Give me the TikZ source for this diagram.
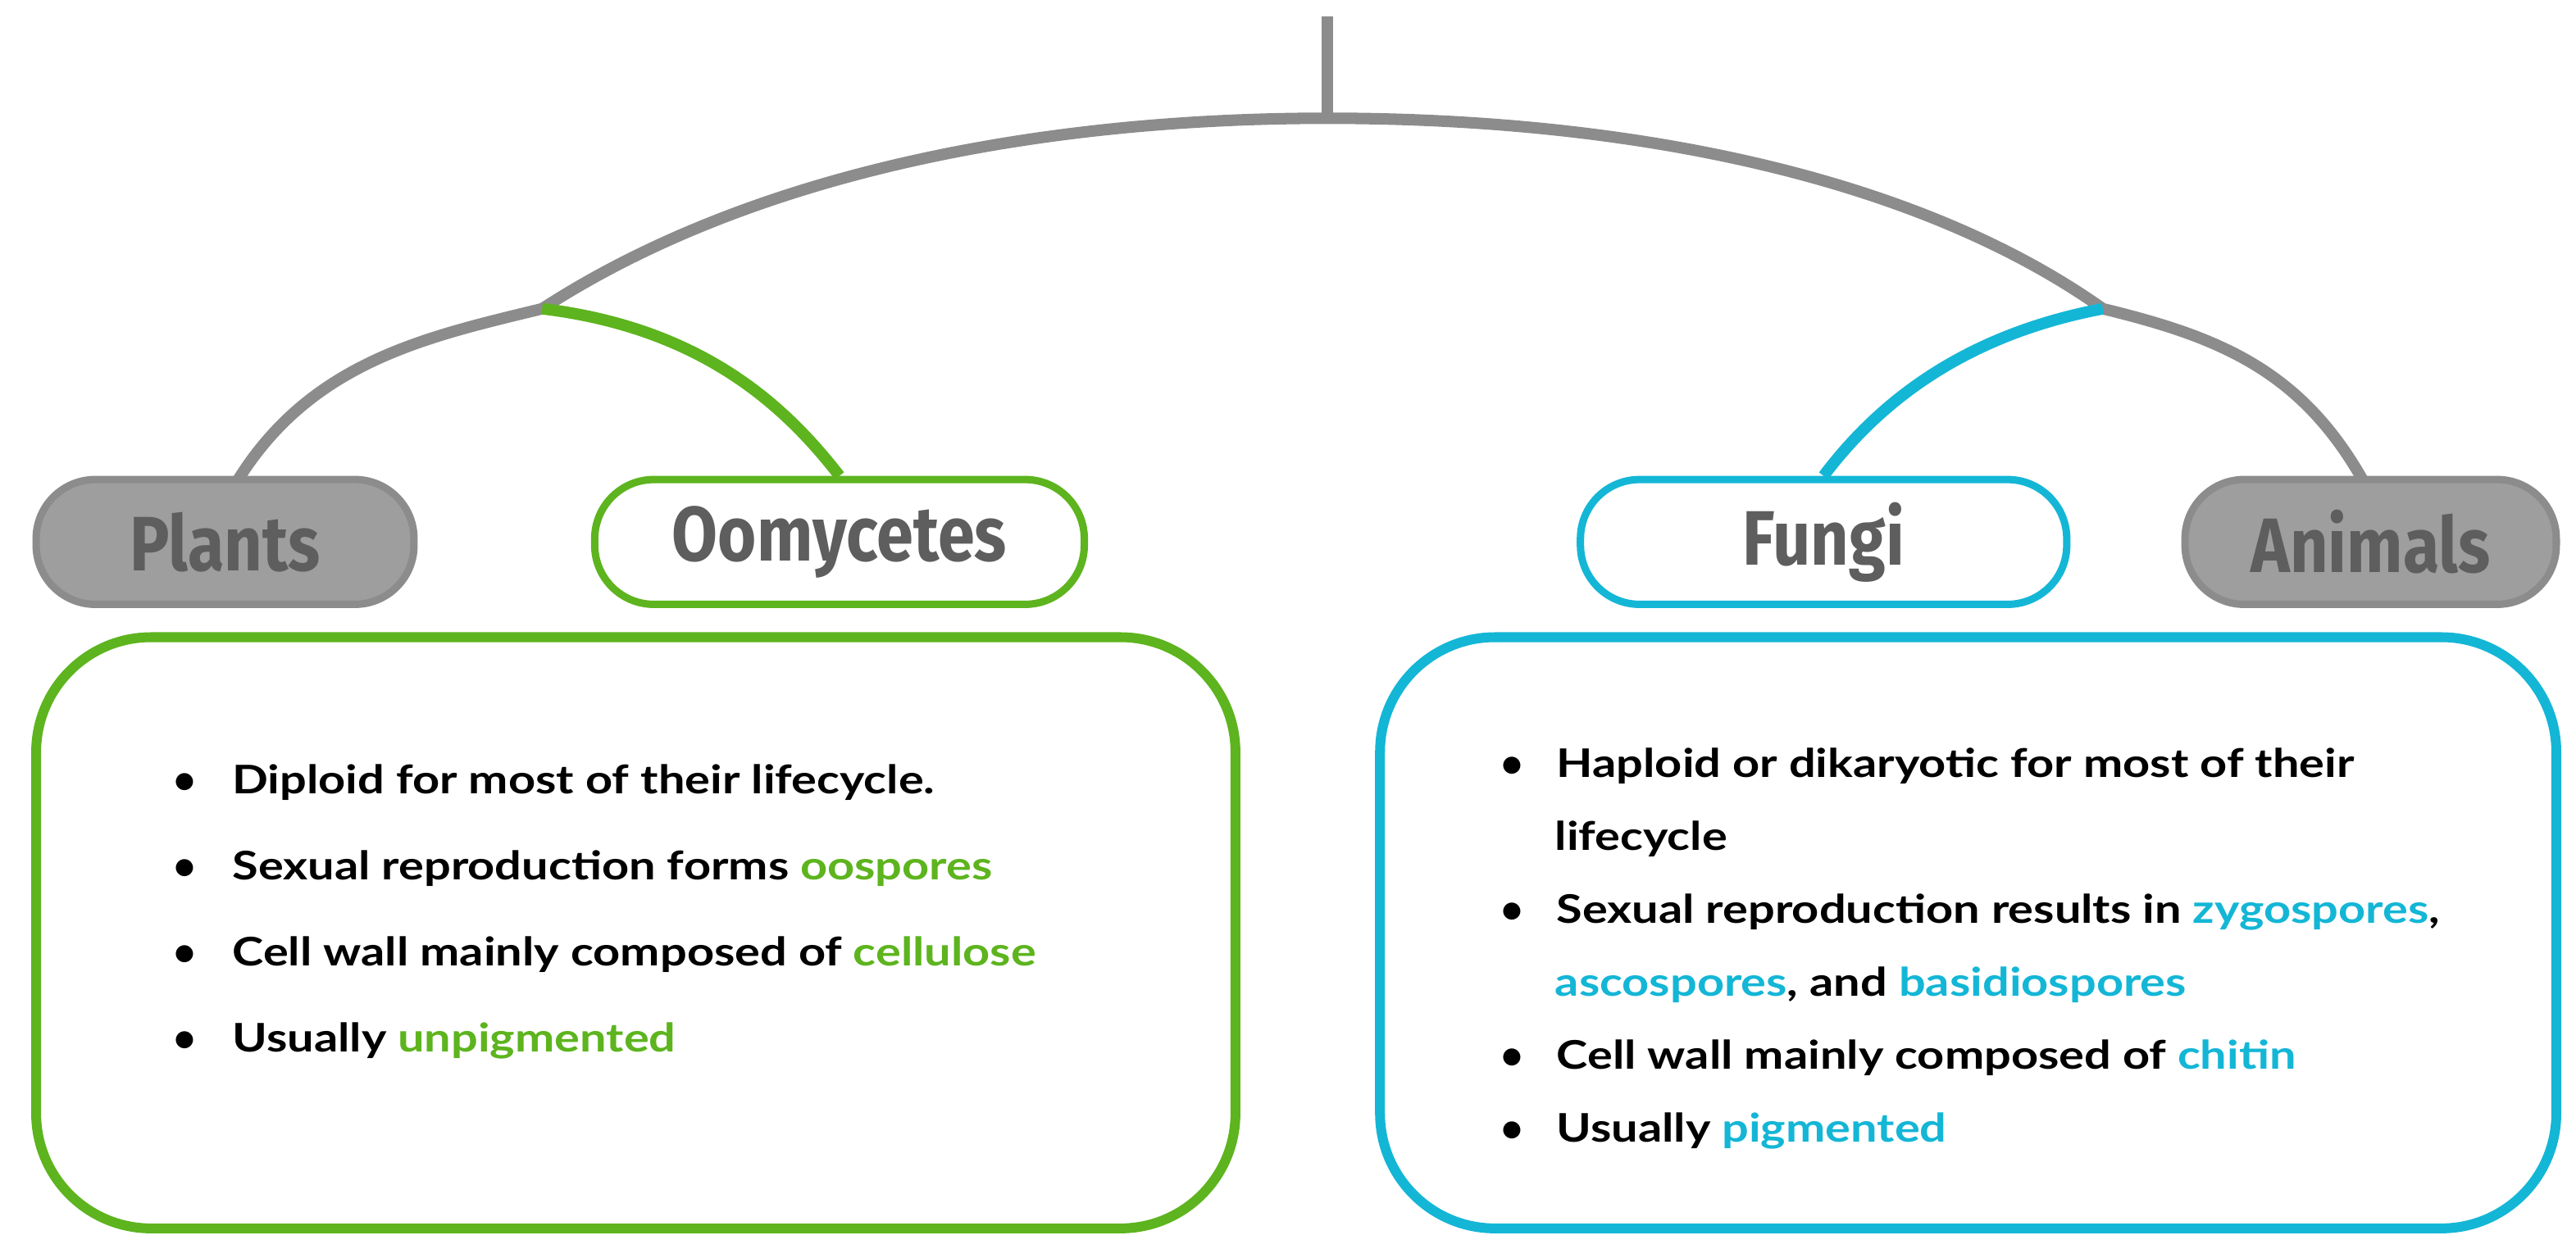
\documentclass[tikz,border=0pt]{standalone}
\usepackage{fontspec}
\setmainfont{Lato}
\newfontfamily\headfont{Fira Sans}
\definecolor{gr}{HTML}{8C8C8C}
\definecolor{grfill}{HTML}{9E9E9E}
\definecolor{grtext}{HTML}{5E5E5E}
\definecolor{grn}{HTML}{5DB41E}
\definecolor{blu}{HTML}{14B6D6}
\newcommand{\hd}[1]{\scalebox{0.86}[1]{\color{grtext}\headfont\bfseries\fontsize{47}{50}\selectfont #1}}
\newcommand{\bl}[1]{\scalebox{1.2}[1]{#1}}
\begin{document}
\begin{tikzpicture}[x=1pt,y=-1pt,
  pill/.style={rounded corners=36pt,minimum width=#1,minimum height=76pt,line width=4.5pt,inner sep=0pt},
  gpill/.style={pill=#1,draw=gr,fill=grfill},
  bigbox/.style={rounded corners=70pt,line width=6pt,minimum width=#1,minimum height=360pt},
  lst/.style={align=left,anchor=north west,text=black}]
\useasboundingbox (0,0) rectangle (1568,766);
% nodes
\node[gpill=230pt] (plants) at (137,330) {\hd{Plants}};
\node[pill=298pt,draw=grn,fill=white] (oomy) at (511,330) {\hd{Oomycetes}};
\node[pill=296pt,draw=blu,fill=white] (fungi) at (1110,330) {\hd{Fungi}};
\node[gpill=226pt] (animals) at (1443,330) {\hd{Animals}};
\node[bigbox=730pt,draw=grn] (gbox) at (387,568) {};
\node[bigbox=716pt,draw=blu] (bbox) at (1198,568) {};
% tree
\coordinate (top) at (808,10);
\coordinate (apex) at (808,72);
\coordinate (lb) at (330,188);
\coordinate (rb) at (1280,188);
\coordinate (pl) at (145,292);
\coordinate (an) at (1438,292);
\draw[gr,line width=7pt] (top) -- (apex);
\draw[gr,line width=7pt] (pl) .. controls (190,220) and (260,205) .. (lb)
   .. controls (450,110) and (620,72) .. (apex)
   .. controls (1000,72) and (1170,110) .. (rb)
   .. controls (1350,205) and (1400,225) .. (an);
\draw[grn,line width=7pt] (lb) .. controls (430,200) and (480,250) .. (oomy.north);
\draw[blu,line width=7pt] (rb) .. controls (1190,205) and (1140,250) .. (fungi.north);
% lists
\node[lst,font=\bfseries\fontsize{24}{52.3}\selectfont] (gl) at (102,462) {%
\textbullet\hspace{22pt}\bl{Diploid for most of their lifecycle.}\\
\textbullet\hspace{22pt}\bl{Sexual reproduction forms \textcolor{grn}{oospores}}\\
\textbullet\hspace{22pt}\bl{Cell wall mainly composed of \textcolor{grn}{cellulose}}\\
\textbullet\hspace{22pt}\bl{Usually \textcolor{grn}{unpigmented}}};
\node[lst,font=\bfseries\fontsize{24}{44.4}\selectfont] (bl) at (910,452) {%
\textbullet\hspace{20pt}\bl{Haploid or dikaryotic for most of their}\\
\hspace{33pt}\bl{lifecycle}\\
\textbullet\hspace{20pt}\bl{Sexual reproduction results in \textcolor{blu}{zygospores},}\\
\hspace{33pt}\bl{\textcolor{blu}{ascospores}, and \textcolor{blu}{basidiospores}}\\
\textbullet\hspace{20pt}\bl{Cell wall mainly composed of \textcolor{blu}{chitin}}\\
\textbullet\hspace{20pt}\bl{Usually \textcolor{blu}{pigmented}}};
\end{tikzpicture}
\end{document}
